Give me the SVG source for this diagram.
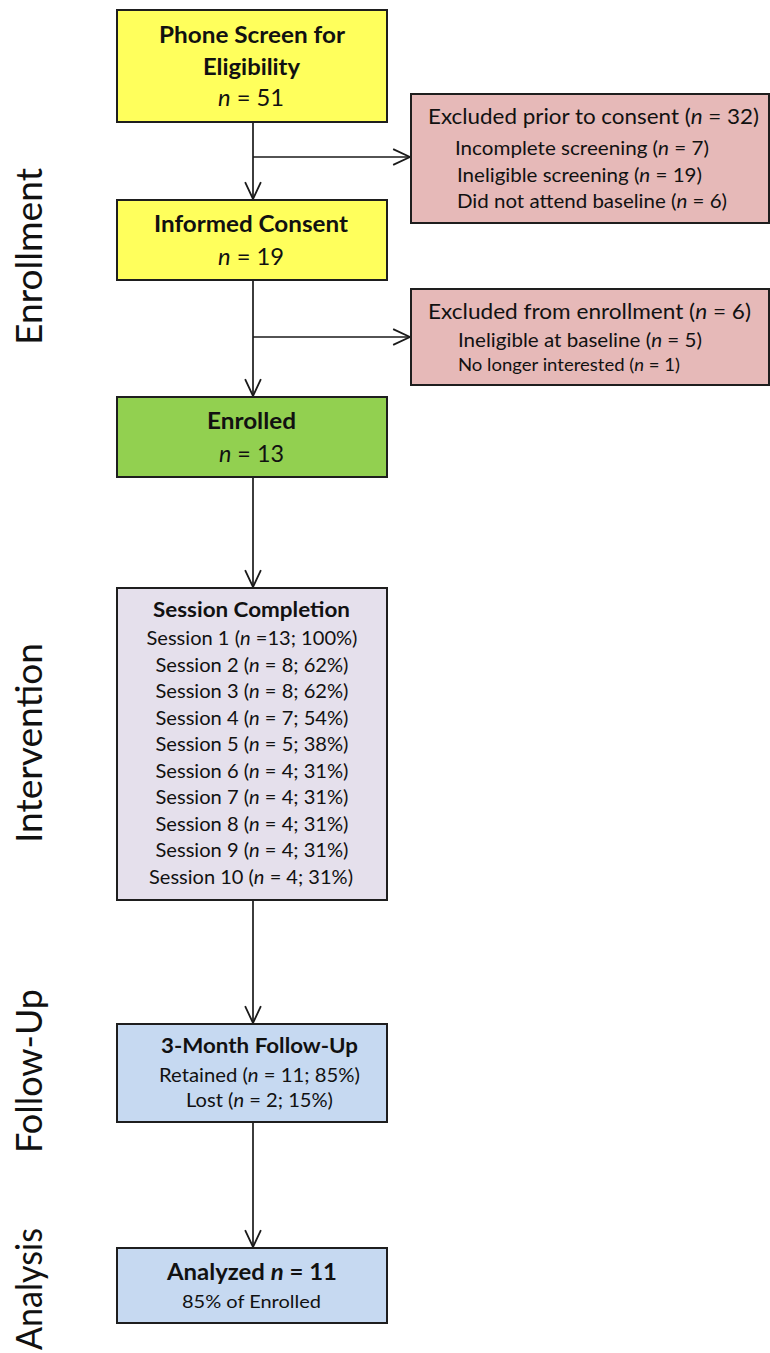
<svg xmlns="http://www.w3.org/2000/svg" width="770" height="1353" viewBox="0 0 770 1353">
<style>
text{font-family:Lato,"Liberation Sans",sans-serif;fill:#111;}
.b{font-weight:bold;}
.t{font-size:23px;}
.e{font-size:21px;}
.s{font-size:20px;}
.x{font-size:18px;}
.i{font-style:italic;}
.m{text-anchor:middle;}
.lbl{font-size:36px;font-weight:400;text-anchor:middle;}
.box{stroke:#1e1e1e;stroke-width:2;}
.y{fill:#FFFF5C;}
.p{fill:#E6B9B8;}
.g{fill:#92D050;}
.v{fill:#E5E0EC;}
.bl{fill:#C6D9F1;}
.c{stroke:#1a1a1a;stroke-width:1.7;fill:none;}
</style>
<defs>
<marker id="ah" markerUnits="userSpaceOnUse" markerWidth="20" markerHeight="20" viewBox="-17 -9 19 18" refX="0" refY="0" orient="auto">
<path d="M-16,-7.5 L0,0 L-16,7.5" fill="none" stroke="#1a1a1a" stroke-width="1.7"/>
</marker>
</defs>
<rect width="770" height="1353" fill="#fff"/>

<g id="stage-labels">
<text class="lbl" transform="translate(42,256.5) rotate(-90)" textLength="177" lengthAdjust="spacingAndGlyphs">Enrollment</text>
<text class="lbl" transform="translate(42,743) rotate(-90)" textLength="200" lengthAdjust="spacingAndGlyphs">Intervention</text>
<text class="lbl" transform="translate(42,1071) rotate(-90)" textLength="164" lengthAdjust="spacingAndGlyphs">Follow-Up</text>
<text class="lbl" transform="translate(42,1289) rotate(-90)" textLength="122" lengthAdjust="spacingAndGlyphs">Analysis</text>
</g>

<g id="connectors">
<line class="c" x1="253" y1="122" x2="253" y2="199" marker-end="url(#ah)"/>
<line class="c" x1="253" y1="157" x2="410" y2="157" marker-end="url(#ah)"/>
<line class="c" x1="253" y1="280" x2="253" y2="396" marker-end="url(#ah)"/>
<line class="c" x1="253" y1="337" x2="410" y2="337" marker-end="url(#ah)"/>
<line class="c" x1="253" y1="477" x2="253" y2="587" marker-end="url(#ah)"/>
<line class="c" x1="253" y1="900" x2="253" y2="1023" marker-end="url(#ah)"/>
<line class="c" x1="253" y1="1122" x2="253" y2="1247" marker-end="url(#ah)"/>
</g>

<g id="phone-screen">
<rect class="box y" x="117" y="10" width="270" height="112"/>
<text class="b t" x="159" y="43" textLength="186" lengthAdjust="spacingAndGlyphs">Phone Screen for</text>
<text class="b t" x="203" y="75" textLength="97" lengthAdjust="spacingAndGlyphs">Eligibility</text>
<text class="t" x="218" y="106" textLength="66" lengthAdjust="spacingAndGlyphs"><tspan class="i">n</tspan> = 51</text>
</g>

<g id="excluded-prior">
<rect class="box p" x="411" y="94" width="358" height="129"/>
<text class="e" x="428" y="124" textLength="331" lengthAdjust="spacingAndGlyphs">Excluded prior to consent (<tspan class="i">n</tspan> = 32)</text>
<text class="s" x="455" y="155" textLength="254" lengthAdjust="spacingAndGlyphs">Incomplete screening (<tspan class="i">n</tspan> = 7)</text>
<text class="s" x="457" y="182" textLength="245" lengthAdjust="spacingAndGlyphs">Ineligible screening (<tspan class="i">n</tspan> = 19)</text>
<text class="s" x="457" y="208" textLength="270" lengthAdjust="spacingAndGlyphs">Did not attend baseline (<tspan class="i">n</tspan> = 6)</text>
</g>

<g id="informed-consent">
<rect class="box y" x="117" y="200" width="270" height="80"/>
<text class="b t" x="154" y="232" textLength="194" lengthAdjust="spacingAndGlyphs">Informed Consent</text>
<text class="t" x="218" y="265" textLength="66" lengthAdjust="spacingAndGlyphs"><tspan class="i">n</tspan> = 19</text>
</g>

<g id="excluded-enrollment">
<rect class="box p" x="411" y="289" width="358" height="96"/>
<text class="e" x="428" y="319" textLength="323" lengthAdjust="spacingAndGlyphs">Excluded from enrollment (<tspan class="i">n</tspan> = 6)</text>
<text class="s" x="458" y="347" textLength="244" lengthAdjust="spacingAndGlyphs">Ineligible at baseline (<tspan class="i">n</tspan> = 5)</text>
<text class="x" x="458" y="371" textLength="222" lengthAdjust="spacingAndGlyphs">No longer interested (<tspan class="i">n</tspan> = 1)</text>
</g>

<g id="enrolled">
<rect class="box g" x="117" y="397" width="270" height="80"/>
<text class="b t" x="207" y="429" textLength="89" lengthAdjust="spacingAndGlyphs">Enrolled</text>
<text class="t" x="219" y="462" textLength="65" lengthAdjust="spacingAndGlyphs"><tspan class="i">n</tspan> = 13</text>
</g>

<g id="session-completion">
<rect class="box v" x="117" y="588" width="270" height="312"/>
<text class="b s" x="153" y="617" textLength="197" lengthAdjust="spacingAndGlyphs">Session Completion</text>
<text class="s m" x="252" y="645" textLength="211" lengthAdjust="spacingAndGlyphs">Session 1 (<tspan class="i">n</tspan> =13; 100%)</text>
<text class="s m" x="252" y="671.5" textLength="193" lengthAdjust="spacingAndGlyphs">Session 2 (<tspan class="i">n</tspan> = 8; 62%)</text>
<text class="s m" x="252" y="698" textLength="193" lengthAdjust="spacingAndGlyphs">Session 3 (<tspan class="i">n</tspan> = 8; 62%)</text>
<text class="s m" x="252" y="724.5" textLength="193" lengthAdjust="spacingAndGlyphs">Session 4 (<tspan class="i">n</tspan> = 7; 54%)</text>
<text class="s m" x="252" y="751" textLength="193" lengthAdjust="spacingAndGlyphs">Session 5 (<tspan class="i">n</tspan> = 5; 38%)</text>
<text class="s m" x="252" y="777.5" textLength="193" lengthAdjust="spacingAndGlyphs">Session 6 (<tspan class="i">n</tspan> = 4; 31%)</text>
<text class="s m" x="252" y="804" textLength="193" lengthAdjust="spacingAndGlyphs">Session 7 (<tspan class="i">n</tspan> = 4; 31%)</text>
<text class="s m" x="252" y="830.5" textLength="193" lengthAdjust="spacingAndGlyphs">Session 8 (<tspan class="i">n</tspan> = 4; 31%)</text>
<text class="s m" x="252" y="857" textLength="193" lengthAdjust="spacingAndGlyphs">Session 9 (<tspan class="i">n</tspan> = 4; 31%)</text>
<text class="s m" x="251" y="883.5" textLength="204" lengthAdjust="spacingAndGlyphs">Session 10 (<tspan class="i">n</tspan> = 4; 31%)</text>
</g>

<g id="follow-up">
<rect class="box bl" x="117" y="1024" width="270" height="98"/>
<text class="b s" x="161" y="1053" textLength="197" lengthAdjust="spacingAndGlyphs">3-Month Follow-Up</text>
<text class="s" x="159" y="1082" textLength="201" lengthAdjust="spacingAndGlyphs">Retained (<tspan class="i">n</tspan> = 11; 85%)</text>
<text class="s" x="186" y="1107" textLength="147" lengthAdjust="spacingAndGlyphs">Lost (<tspan class="i">n</tspan> = 2; 15%)</text>
</g>

<g id="analyzed">
<rect class="box bl" x="117" y="1248" width="270" height="75"/>
<text class="b t" x="167" y="1280" textLength="170" lengthAdjust="spacingAndGlyphs">Analyzed <tspan class="i">n</tspan> = 11</text>
<text class="x" x="182" y="1308" textLength="139" lengthAdjust="spacingAndGlyphs">85% of Enrolled</text>
</g>
</svg>
